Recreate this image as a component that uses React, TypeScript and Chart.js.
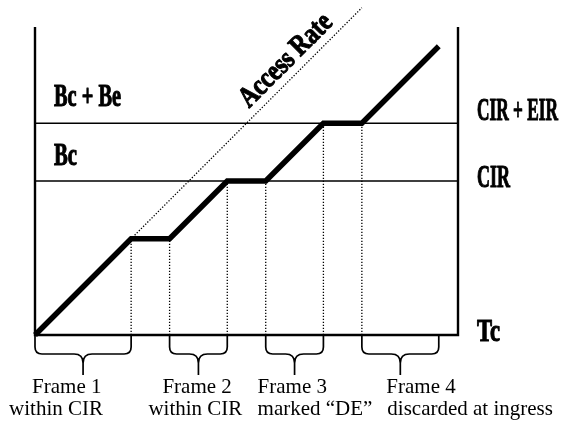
import React, { useEffect, useRef } from "react";
import { Chart, registerables } from "chart.js";

Chart.register(...registerables);

// ---- data ----
const sentX = [0, 5, 7, 10, 12, 15, 17, 21];
const sentY = [0, 5, 5, 8, 8, 11, 11, 15];
const accessX = [0, 17];
const accessY = [0, 17];
const levelValues = [8, 11];
const leftLevelLabels = ["Bc", "Bc + Be"];
const rightLevelLabels = ["CIR", "CIR + EIR"];
const tcValue = 22;
const yTop = 16;
const tcLabel = "Tc";
const accessLabel = "Access Rate";
const frameStart = [0, 7, 12, 17];
const frameEnd = [5, 10, 15, 21];
const frameTitles = ["Frame 1", "Frame 2", "Frame 3", "Frame 4"];
const frameNotes = ["within CIR", "within CIR", "marked \u201CDE\u201D", "discarded at ingress"];

// ---- layout (pixels) ----
const leftLabelWidths = [23, 67];
const leftLabelBaselineOffset = [-16, -17];
const rightLabelWidths = [33, 81];
const rightLabelBaselineOffset = [6, -3];
const tcWidth = 23;
const accessWidth = 120;
const titleDx = [[-51, -74], [-36, -50], [-37, -37], [-14, -13]];

const BOLD_FONT = 'bold 31px "Liberation Serif", "Times New Roman", serif';
const ACCESS_FONT = 'bold 29px "Liberation Serif", "Times New Roman", serif';
const SERIF_FONT = '21px "Liberation Serif", "Times New Roman", serif';

function fitText(ctx: CanvasRenderingContext2D, text: string, x: number, yb: number, width: number) {
  const w = ctx.measureText(text).width;
  ctx.save();
  ctx.translate(x, yb);
  ctx.scale(width / w, 1);
  ctx.lineWidth = 1.1;
  ctx.lineJoin = "round";
  ctx.strokeText(text, 0, 0);
  ctx.fillText(text, 0, 0);
  ctx.restore();
}

const annotate = {
  id: "annotate",
  afterDatasetsDraw(chart: any) {
    const { ctx } = chart;
    const xs = chart.scales.x;
    const ys = chart.scales.y;
    const x0 = xs.getPixelForValue(0);
    const xR = xs.getPixelForValue(tcValue);
    const base = ys.getPixelForValue(0);
    ctx.save();
    ctx.fillStyle = "#000";
    ctx.strokeStyle = "#000";

    // braces
    for (let i = 0; i < frameStart.length; i++) {
      const L = xs.getPixelForValue(frameStart[i]);
      const R = xs.getPixelForValue(frameEnd[i]);
      const C = (L + R) / 2;
      const mid = base + 19;
      const tip = base + 40;
      ctx.lineWidth = 1.7;
      ctx.beginPath();
      ctx.moveTo(L, base);
      ctx.lineTo(L, mid - 7);
      ctx.quadraticCurveTo(L, mid, L + 7, mid);
      ctx.lineTo(C - 9, mid);
      ctx.quadraticCurveTo(C, mid, C, mid + 9);
      ctx.lineTo(C, tip);
      ctx.moveTo(C, mid + 9);
      ctx.quadraticCurveTo(C, mid, C + 9, mid);
      ctx.lineTo(R - 7, mid);
      ctx.quadraticCurveTo(R, mid, R, mid - 7);
      ctx.lineTo(R, base);
      ctx.stroke();

      ctx.font = SERIF_FONT;
      ctx.textAlign = "left";
      ctx.textBaseline = "alphabetic";
      ctx.fillText(frameTitles[i], C + titleDx[i][0], base + 58);
      ctx.fillText(frameNotes[i], C + titleDx[i][1], base + 80);
    }

    // level labels
    ctx.font = BOLD_FONT;
    ctx.textAlign = "left";
    ctx.textBaseline = "alphabetic";
    for (let i = 0; i < levelValues.length; i++) {
      const py = ys.getPixelForValue(levelValues[i]);
      fitText(ctx, leftLevelLabels[i], x0 + 19, py + leftLabelBaselineOffset[i], leftLabelWidths[i]);
      fitText(ctx, rightLevelLabels[i], xR + 19, py + rightLabelBaselineOffset[i], rightLabelWidths[i]);
    }
    fitText(ctx, tcLabel, xR + 19, base + 6, tcWidth);

    // access rate label
    ctx.font = ACCESS_FONT;
    const ax = xs.getPixelForValue(13.0);
    const ay = ys.getPixelForValue(14.3);
    ctx.save();
    ctx.translate(ax, ay);
    ctx.rotate(-Math.PI / 4);
    const w = ctx.measureText(accessLabel).width;
    ctx.scale(accessWidth / w, 1);
    ctx.textAlign = "center";
    ctx.lineWidth = 1.1;
    ctx.lineJoin = "round";
    ctx.strokeText(accessLabel, 0, 9);
    ctx.fillText(accessLabel, 0, 9);
    ctx.restore();

    ctx.restore();
  },
};

export default function App() {
  const ref = useRef<HTMLCanvasElement | null>(null);
  useEffect(() => {
    if (!ref.current) return;
    const sent = sentX.map((x, i) => ({ x, y: sentY[i] }));
    const access = accessX.map((x, i) => ({ x, y: accessY[i] }));
    const drops: any[] = [];
    for (let i = 1; i < sentX.length - 1; i++) {
      drops.push({ x: sentX[i], y: 0 }, { x: sentX[i], y: sentY[i] }, { x: sentX[i], y: null });
    }
    const levelsPts: any[] = [];
    levelValues.forEach((v) => {
      levelsPts.push({ x: 0, y: v }, { x: tcValue, y: v }, { x: tcValue, y: null });
    });
    const axes = [
      { x: 0, y: yTop },
      { x: 0, y: 0 },
      { x: tcValue, y: 0 },
      { x: tcValue, y: yTop },
    ];
    const common = { showLine: true, pointRadius: 0, fill: false, tension: 0, spanGaps: false, clip: false as any };
    const chart = new Chart(ref.current, {
      type: "scatter",
      data: {
        datasets: [
          { ...common, label: "sent", data: sent, borderColor: "#000", borderWidth: 5.5, borderCapStyle: "butt", borderJoinStyle: "miter", order: 0 },
          { ...common, label: "access", data: access, borderColor: "#000", borderWidth: 1.3, borderDash: [1.3, 1.7], order: 3 },
          { ...common, label: "drops", data: drops, borderColor: "#000", borderWidth: 1.3, borderDash: [1.3, 1.7], order: 3 },
          { ...common, label: "levels", data: levelsPts, borderColor: "#000", borderWidth: 1.6, order: 2 },
          { ...common, label: "axes", data: axes, borderColor: "#000", borderWidth: 2.4, borderJoinStyle: "miter", order: 1 },
        ] as any,
      },
      options: {
        responsive: false,
        animation: false,
        layout: { padding: { left: 35, right: 103, top: 27, bottom: 88 } },
        scales: {
          x: { type: "linear", min: 0, max: tcValue, display: false },
          y: { type: "linear", min: 0, max: yTop, display: false },
        },
        plugins: { legend: { display: false }, tooltip: { enabled: false } },
        events: [],
      },
      plugins: [annotate],
    });
    return () => chart.destroy();
  }, []);
  return (
    <div style={{ position: "fixed", left: 0, top: 0, width: 561, height: 423, background: "#fff" }}>
      <canvas ref={ref} width={561} height={423} style={{ display: "block" }} />
    </div>
  );
}
